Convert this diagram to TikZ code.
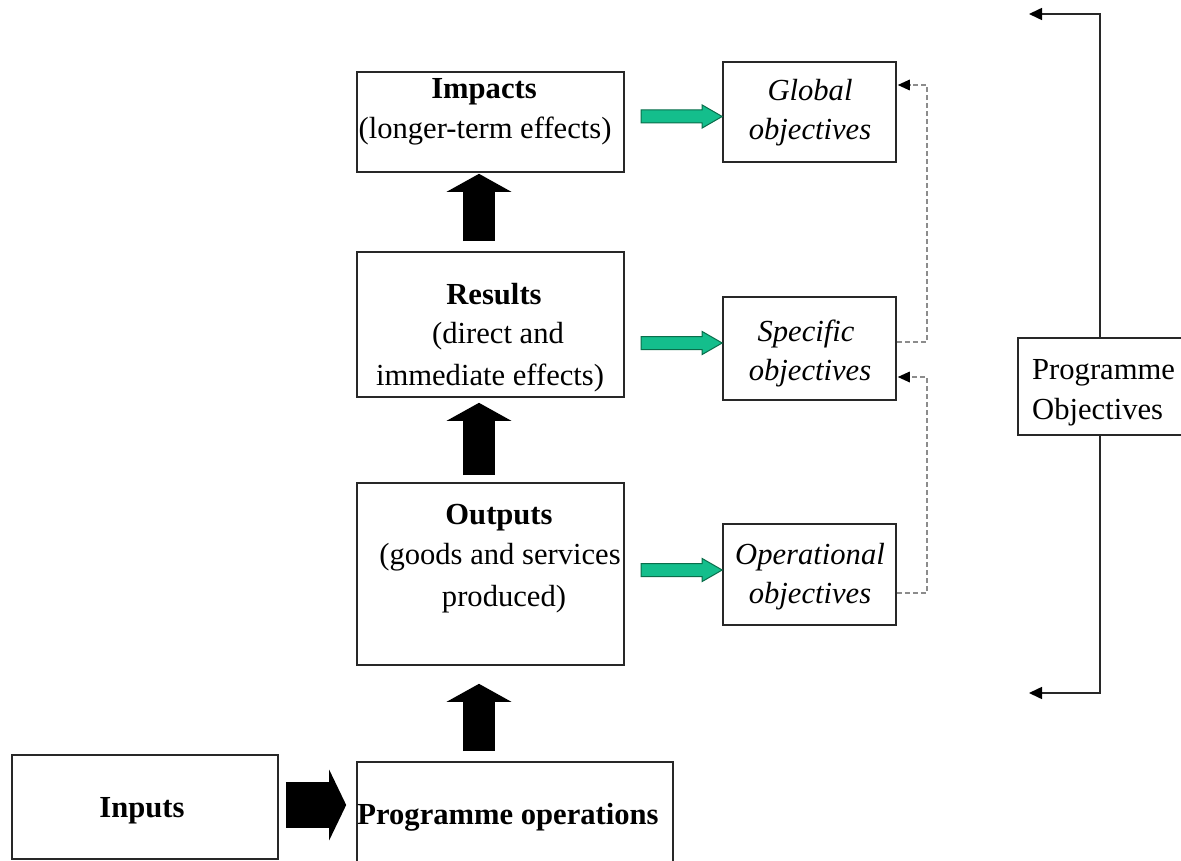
\documentclass[tikz,border=0pt]{standalone}
\usepackage{fontspec}
\setmainfont{Liberation Serif}
\usetikzlibrary{arrows.meta,calc}
\definecolor{boxline}{RGB}{40,40,40}
\definecolor{gfill}{RGB}{20,190,140}
\definecolor{gline}{RGB}{10,110,75}
\definecolor{dashgrey}{RGB}{140,140,140}
\begin{document}
\begin{tikzpicture}[x=1pt,y=-1pt,
  box/.style={draw=boxline,line width=1.6pt,fill=white,inner sep=0pt,rectangle},
  txt/.style={anchor=base,inner sep=0pt,font=\fontsize{30.6}{40}\selectfont},
  bigarrow/.style={line width=32pt,draw=black,-{Triangle[length=18pt,width=64pt]}},
  sidearrow/.style={line width=46pt,draw=black,-{Triangle[length=17pt,width=70pt]}},
  garrow/.style={fill=gfill,draw=gline,line width=1pt,line join=miter},
  dashlink/.style={draw=dashgrey,line width=1.3pt,dash pattern=on 5pt off 3pt,
    -{Triangle[length=12pt,width=11pt,color=black,fill=black,line width=0pt]}},
  bracket/.style={draw=boxline,line width=1.6pt,-{Triangle[length=13pt,width=12pt,color=black]}}]
\useasboundingbox (0,0) rectangle (1181,861);

% boxes
\node[box,minimum width=267pt,minimum height=100pt] (imp) at (490.5,122) {};
\node[box,minimum width=267pt,minimum height=145pt] (res) at (490.5,324.5) {};
\node[box,minimum width=267pt,minimum height=182pt] (out) at (490.5,574) {};
\node[box,minimum width=316pt,minimum height=118pt] (po) at (515,821) {};
\node[box,minimum width=266pt,minimum height=104pt] (inp) at (145,807) {};
\node[box,minimum width=173pt,minimum height=100pt] (glob) at (809.5,112) {};
\node[box,minimum width=173pt,minimum height=103pt] (spec) at (809.5,348.5) {};
\node[box,minimum width=173pt,minimum height=101pt] (oper) at (809.5,574.5) {};
\node[box,minimum width=168pt,minimum height=97pt] (pobj) at (1102,386.5) {};

% texts
\node[txt] (t1) at (484,99) {\textbf{Impacts}};
\node[txt] (t2) at (485,139) {(longer-term effects)};
\node[txt] (t3) at (494,304) {\textbf{Results}};
\node[txt] (t4) at (498,343) {(direct and};
\node[txt] (t5) at (490,385) {immediate effects)};
\node[txt] (t6) at (499,524) {\textbf{Outputs}};
\node[txt] (t7) at (500,564) {(goods and services};
\node[txt] (t8) at (504,606) {produced)};
\node[txt] (t9) at (810,101) {\itshape Global};
\node[txt] (t10) at (810,140) {\itshape objectives};
\node[txt] (t11) at (806,341) {\itshape Specific};
\node[txt] (t12) at (810,380) {\itshape objectives};
\node[txt] (t13) at (810,564) {\itshape Operational};
\node[txt] (t14) at (810,603) {\itshape objectives};
\node[txt,anchor=base west] (t15) at (1032,379) {Programme};
\node[txt,anchor=base west] (t16) at (1032,419) {Objectives};
\node[txt] (t17) at (142,817) {\textbf{Inputs}};
\node[txt] (t18) at (508,824) {\textbf{Programme operations}};

% black arrows
\draw[bigarrow] ([xshift=-11.5pt,yshift=10pt]res.north) -- ([xshift=-11.5pt,yshift=-1pt]imp.south);
\draw[bigarrow] ([xshift=-11.5pt,yshift=7pt]out.north) -- ([xshift=-11.5pt,yshift=-5pt]res.south);
\draw[bigarrow] ([xshift=-36pt,yshift=10pt]po.north) -- ([xshift=-11.5pt,yshift=-18pt]out.south);
\draw[sidearrow] ([xshift=7pt,yshift=2pt]inp.east) -- ([xshift=-10pt,yshift=2pt]inp.east -| po.west);

% green arrows
\newcommand{\greenarr}[1]{%
  \filldraw[garrow] #1 ++(-81,-6.5) -- ++(61,0) -- ++(0,-5) -- ++(20,11.5)
    -- ++(-20,11.5) -- ++(0,-5) -- ++(-61,0) -- cycle;}
\greenarr{([yshift=-4.5pt]glob.west)}
\greenarr{([yshift=5.5pt]spec.west)}
\greenarr{([yshift=4.5pt]oper.west)}

% dashed links
\coordinate (d1) at (927,342);
\coordinate (d2) at (927,593);
\draw[dashlink] (spec.east |- d1) -- (d1) -- (927,85) -- ([xshift=1pt]glob.east |- 0,85);
\draw[dashlink] (oper.east |- d2) -- (d2) -- (927,377) -- ([xshift=1pt]spec.east |- 0,377);

% bracket
\coordinate (ptop) at (1100,14);
\coordinate (pbot) at (1100,693);
\coordinate (ptopend) at (1029,14);
\coordinate (pbotend) at (1029,693);
\draw[bracket] (pobj.north -| ptop) -- (ptop) -- (ptopend);
\draw[bracket] (pobj.south -| pbot) -- (pbot) -- (pbotend);
\end{tikzpicture}
\end{document}
